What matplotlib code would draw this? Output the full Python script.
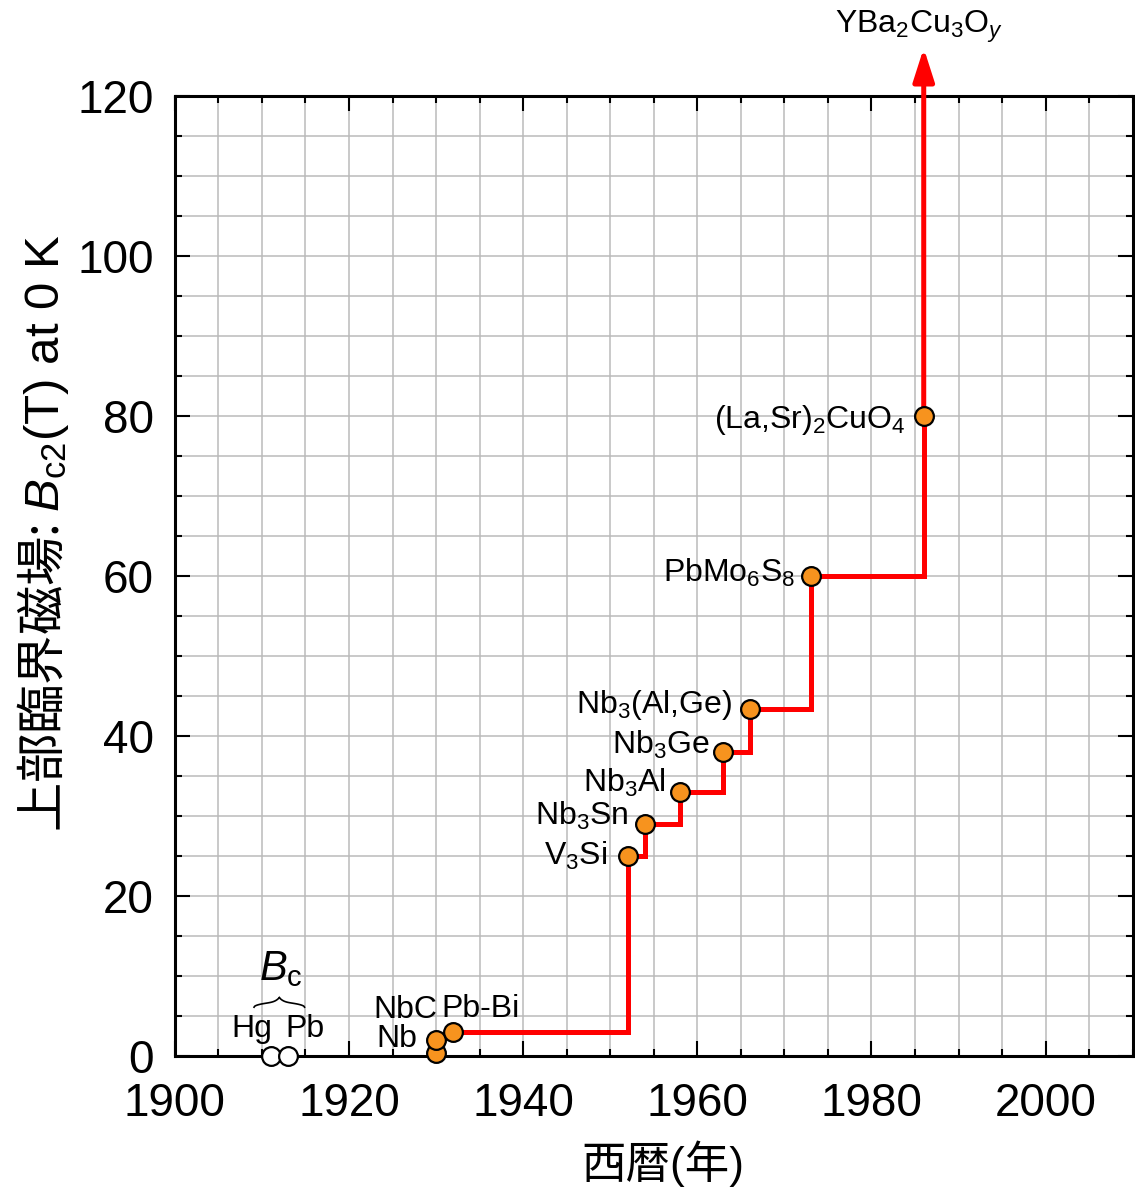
import numpy as np
import matplotlib
matplotlib.use("Agg")
import matplotlib.pyplot as plt
from matplotlib.ticker import MultipleLocator

plt.rcParams['font.family'] = ['Liberation Sans', 'Noto Sans CJK JP']
plt.rcParams['mathtext.fontset'] = 'custom'
plt.rcParams['mathtext.rm'] = 'Liberation Sans'
plt.rcParams['mathtext.it'] = 'Liberation Sans:italic'

# Bc of the pure elements (open circles)
elem_names = ['Hg', 'Pb']
elem_years = [1911, 1913]
elem_bc = [0, 0]

# Bc2 of the superconductors (orange circles)
mat_names = ['Nb', 'NbC', 'Pb-Bi', 'V$_3$Si', 'Nb$_3$Sn', 'Nb$_3$Al', 'Nb$_3$Ge',
             'Nb$_3$(Al,Ge)', 'PbMo$_6$S$_8$', '(La,Sr)$_2$CuO$_4$']
mat_years = [1930, 1930, 1932, 1952, 1954, 1958, 1963, 1966, 1973, 1986]
mat_bc2 = [0.4, 2, 3, 25, 29, 33, 38, 43.4, 60, 80]

# record line starts at Pb-Bi
rec_years = mat_years[2:]
rec_bc2 = mat_bc2[2:]

ybco_name = 'YBa$_2$Cu$_3$O$_y$'
ybco_year = 1986
ybco_bc2 = 126

# label offsets in points (dx, dy, ha)
lab_off = [(-13.7, 4.3, 'right'), (0.7, 15.8, 'right'), (-8.6, 10.8, 'left'),
           (-14.4, -6.5, 'right'), (-12.2, -0.7, 'right'), (-10, 0, 'right'),
           (-10, -1.4, 'right'), (-13, -2.9, 'right'), (-10.8, -4.3, 'right'),
           (-13, -8.6, 'right')]

fig = plt.figure(figsize=(11.35, 11.9), dpi=100)
ax = fig.add_axes([0.154, 0.1126, 0.844, 0.8067])

ax.set_xlim(1900, 2010)
ax.set_ylim(0, 120)
ax.xaxis.set_major_locator(MultipleLocator(20))
ax.xaxis.set_minor_locator(MultipleLocator(5))
ax.yaxis.set_major_locator(MultipleLocator(20))
ax.yaxis.set_minor_locator(MultipleLocator(5))
ax.grid(which='both', color='#bababa', lw=1.1, zorder=0)
ax.set_axisbelow(True)
ax.tick_params(which='both', direction='in', top=True, right=True, width=1.5)
ax.tick_params(which='major', length=11, labelsize=33)
ax.tick_params(which='minor', length=5)
ax.tick_params(axis='x', pad=19)
ax.tick_params(axis='y', pad=15)
for s in ax.spines.values():
    s.set_linewidth(2.2)

ax.step(rec_years, rec_bc2, where='post', color='red', lw=3.6,
        solid_joinstyle='miter', zorder=3)
ax.annotate('', xy=(ybco_year, ybco_bc2), xytext=(rec_years[-1], rec_bc2[-1]),
            arrowprops=dict(arrowstyle='-|>,head_length=1.0,head_width=0.32',
                            mutation_scale=20, color='red', lw=3.6,
                            shrinkA=0, shrinkB=0),
            annotation_clip=False, zorder=3)
ax.text(ybco_year - 0.5, ybco_bc2 + 1.9, ybco_name, ha='center', va='baseline',
        fontsize=23)

ax.plot(mat_years, mat_bc2, 'o', ms=13.5, mfc='#f7931e', mec='black', mew=1.6,
        ls='none', clip_on=False, zorder=5)
ax.plot(elem_years, elem_bc, 'o', ms=13.5, mfc='white', mec='black', mew=1.6,
        ls='none', clip_on=False, zorder=5)

for name, x, y, (dx, dy, ha) in zip(mat_names, mat_years, mat_bc2, lab_off):
    ax.annotate(name, (x, y), xytext=(dx, dy), textcoords='offset points',
                ha=ha, va='baseline', fontsize=23, zorder=6)

ax.annotate(elem_names[0], (elem_years[0], 2.4), xytext=(1, 0), textcoords='offset points',
            ha='right', va='baseline', fontsize=23)
ax.annotate(elem_names[1], (elem_years[1], 2.4), xytext=(-2, 0), textcoords='offset points',
            ha='left', va='baseline', fontsize=23)

# brace over Hg and Pb
xm = (elem_years[0] + elem_years[1]) / 2
t = np.linspace(0, 1, 40)
half = 2.9
xl = xm - half * (1 - t)
yl = 6.1 + 0.6 * np.sin(np.pi / 2 * t) ** 0.5 + 0.6 * t ** 6
ax.plot(xl, yl, color='black', lw=1.2, zorder=6)
ax.plot(2 * xm - xl, yl, color='black', lw=1.2, zorder=6)
ax.text(xm + 0.2, 9.5, '$B_\\mathrm{c}$', ha='center', va='baseline', fontsize=30)

ax.set_xlabel('西暦(年)', fontsize=32)
ax.xaxis.set_label_coords(0.51, -0.088)
ax.set_ylabel('上部臨界磁場: $B_{\\mathrm{c2}}\\mathrm{(T)\\ at\\ 0\\ K}$',
              fontsize=35.5, family='Noto Sans CJK JP')
ax.yaxis.set_label_coords(-0.108, 0.545)

fig.savefig('out.png', dpi=100)
